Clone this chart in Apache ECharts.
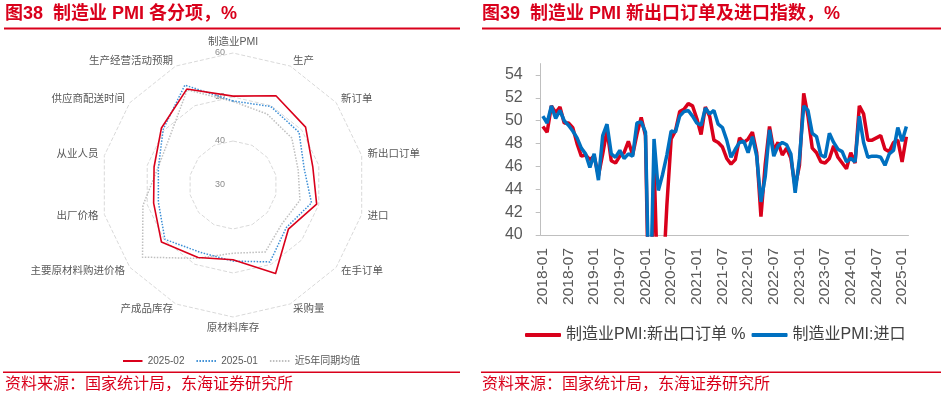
<!DOCTYPE html>
<html><head><meta charset="utf-8">
<script src="https://cdn.jsdelivr.net/npm/echarts@6/dist/echarts.min.js"></script>
<style>html,body{margin:0;padding:0;background:#fff}#c{width:941px;height:397px}</style>
</head><body><div id="c"></div>
<script>
const FONT = '"Liberation Sans","Noto Sans CJK SC",sans-serif';
const RED = '#d9001b';
// ---------- Radar (clockwise order from top) ----------
const radarNames = ['制造业PMI','生产','新订单','新出口订单','进口','在手订单','采购量','原材料库存','产成品库存','主要原材料购进价格','出厂价格','从业人员','供应商配送时间','生产经营活动预期'];
const radarTicks = [30, 40, 50, 60];
const feb2025 = [50.2, 52.5, 51.1, 48.6, 49.5, 46.1, 52.3, 47.0, 48.3, 50.8, 48.5, 48.4, 50.8, 54.2];
const jan2025 = [49.1, 49.8, 49.2, 46.6, 48.3, 45.5, 49.4, 47.3, 47.0, 49.8, 47.4, 47.4, 50.3, 55.2];
const avg5y   = [49.0, 47.9, 47.1, 45.2, 45.6, 44.2, 46.9, 45.5, 48.5, 56.3, 51.0, 47.5, 48.2, 54.0];
const radarLegend = ['2025-02', '2025-01', '近5年同期均值'];
// ---------- Line chart ----------
const months = [];
for (let y = 2018; y <= 2025; y++) for (let m = 1; m <= 12; m++) { if (y === 2025 && m > 2) break; months.push(y + '-' + String(m).padStart(2, '0')); }
const exportOrders = [
 49.5, 49.0, 51.3, 50.7, 51.2, 49.8, 49.8, 49.4, 48.0, 46.9, 47.0, 46.6,
 46.9, 45.2, 47.1, 49.2, 46.5, 46.3, 46.9, 47.2, 48.2, 47.0, 48.8, 50.3,
 48.7, 28.7, 46.4, 33.5, 35.3, 42.6, 48.4, 49.1, 50.8, 51.0, 51.5, 51.3,
 50.2, 48.8, 51.2, 50.4, 48.3, 48.1, 47.7, 46.7, 46.2, 46.6, 48.5, 48.1,
 48.4, 49.0, 47.2, 41.6, 46.2, 49.5, 47.4, 48.1, 47.0, 47.6, 46.7, 44.2,
 46.1, 52.4, 50.4, 47.6, 47.2, 46.4, 46.3, 46.7, 47.8, 46.8, 46.3, 45.8,
 47.2, 46.3, 51.3, 50.6, 48.3, 48.3, 48.5, 48.7, 47.5, 47.3, 48.1, 48.3,
 46.4, 48.6];
const imports = [
 50.4, 49.8, 51.3, 50.2, 50.9, 50.0, 49.6, 49.1, 48.5, 47.6, 47.1, 45.9,
 47.1, 44.8, 48.7, 49.7, 47.1, 46.8, 47.4, 46.7, 47.1, 46.9, 49.8, 49.9,
 49.0, 31.9, 48.4, 43.9, 45.3, 47.0, 49.1, 49.0, 50.4, 50.8, 50.9, 50.4,
 49.8, 49.6, 51.1, 50.6, 50.9, 49.7, 49.4, 48.3, 46.8, 47.5, 48.1, 48.2,
 47.2, 48.6, 46.9, 42.9, 45.1, 49.2, 46.9, 47.8, 48.1, 47.9, 47.1, 43.7,
 46.7, 51.3, 50.9, 48.9, 48.6, 47.0, 46.8, 48.9, 48.1, 47.5, 47.3, 46.4,
 46.7, 46.4, 50.4, 48.1, 46.8, 46.9, 46.9, 46.8, 46.1, 47.1, 47.4, 49.4,
 48.2, 49.5];
const lineNames = ['制造业PMI:新出口订单 %', '制造业PMI:进口'];

// ECharts lays radar indicators counter-clockwise: reverse all but the first
const ccw = a => [a[0]].concat(a.slice(1).reverse());
const rMin = radarTicks[0], rMax = radarTicks[radarTicks.length - 1];

const dotPath = 'path://' + [0,3,6,9,12,15,18].map(x => 'M' + x + ',0h1.5v2h-1.5z').join(' ');
const solidPath = 'path://M0,0H19.5V2H0Z';

const chart = echarts.init(document.getElementById('c'), null, {renderer: 'canvas'});
chart.setOption({
  animation: false,
  textStyle: {fontFamily: FONT},
  title: [
    {text: '图38  制造业 PMI 各分项，%', left: 5, top: 5, padding: 0,
     textStyle: {fontSize: 18, fontWeight: 'bold', color: RED, fontFamily: FONT}},
    {text: '图39  制造业 PMI 新出口订单及进口指数，%', left: 482, top: 5, padding: 0,
     textStyle: {fontSize: 18, fontWeight: 'bold', color: RED, fontFamily: FONT}},
    {text: '资料来源：国家统计局，东海证券研究所', left: 5, top: 377, padding: 0,
     textStyle: {fontSize: 16, fontWeight: 'normal', color: RED, fontFamily: FONT}},
    {text: '资料来源：国家统计局，东海证券研究所', left: 482, top: 377, padding: 0,
     textStyle: {fontSize: 16, fontWeight: 'normal', color: RED, fontFamily: FONT}}
  ],
  graphic: [
    {type: 'rect', shape: {x: 4, y: 27.5, width: 456, height: 2}, style: {fill: RED}, silent: true},
    {type: 'rect', shape: {x: 482, y: 27.5, width: 459, height: 2}, style: {fill: RED}, silent: true},
    {type: 'rect', shape: {x: 3, y: 371.5, width: 457, height: 1.5}, style: {fill: RED}, silent: true},
    {type: 'rect', shape: {x: 481, y: 371.5, width: 460, height: 1.5}, style: {fill: RED}, silent: true}
  ],
  legend: [
    {data: [
       {name: radarLegend[0], icon: solidPath},
       {name: radarLegend[1], icon: dotPath},
       {name: radarLegend[2], icon: dotPath}],
     left: 118, top: 351, itemWidth: 20, itemHeight: 2, itemGap: 12,
     textStyle: {fontSize: 10, color: '#595959', fontFamily: FONT}},
    {data: lineNames, left: 520, top: 322, itemWidth: 36, itemHeight: 4, itemGap: 6, icon: 'roundRect',
     textStyle: {fontSize: 16, color: '#404040', fontFamily: FONT}}
  ],
  radar: {
    center: [233, 185], radius: 132, startAngle: 90, splitNumber: radarTicks.length - 1,
    shape: 'polygon', nameGap: 6,
    indicator: ccw(radarNames).map(n => ({name: n, min: rMin, max: rMax})),
    axisName: {color: '#595959', fontSize: 10.5, fontFamily: FONT},
    splitLine: {lineStyle: {color: '#d9d9d9', type: 'dashed', width: 1}},
    splitArea: {show: false},
    axisLine: {show: false},
    axisTick: {show: false},
    axisLabel: {show: false}
  },
  polar: {center: [233, 185], radius: 132},
  angleAxis: {show: false, startAngle: 90, min: 0, max: 360},
  radiusAxis: {min: rMin, max: rMax, interval: radarTicks[1] - radarTicks[0],
    axisLine: {show: false}, axisTick: {show: false}, splitLine: {show: false},
    axisLabel: {fontSize: 9, color: '#8c8c8c', fontFamily: FONT}},
  grid: {left: 540.7, right: 32.5, top: 63.6, bottom: 162},
  xAxis: {type: 'category', data: months, boundaryGap: true,
    axisLine: {lineStyle: {color: '#bfbfbf', width: 1}},
    axisTick: {interval: 5, length: 5, lineStyle: {color: '#bfbfbf'}},
    axisLabel: {interval: 5, rotate: 90, fontSize: 15.5, color: '#595959', margin: 13, fontFamily: FONT}},
  yAxis: {type: 'value', min: 40, max: 55, interval: 2,
    axisLine: {show: true, lineStyle: {color: '#bfbfbf'}},
    axisTick: {show: true, length: 5, lineStyle: {color: '#bfbfbf'}},
    splitLine: {show: false},
    axisLabel: {fontSize: 16, color: '#595959', margin: 18, showMaxLabel: false, fontFamily: FONT}},
  series: [
    {type: 'radar', symbol: 'none', data: [
      {name: radarLegend[2], value: ccw(avg5y), lineStyle: {color: '#bfbfbf', width: 1.5, type: 'dotted'}, itemStyle: {color: '#bfbfbf'}},
      {name: radarLegend[1], value: ccw(jan2025), lineStyle: {color: '#3d8fd6', width: 1.5, type: 'dotted'}, itemStyle: {color: '#3d8fd6'}},
      {name: radarLegend[0], value: ccw(feb2025), lineStyle: {color: RED, width: 1.6, type: 'solid'}, itemStyle: {color: RED}}
    ]},
    {type: 'line', name: lineNames[0], data: exportOrders, showSymbol: false, symbol: 'none',
     lineStyle: {color: RED, width: 3.5}, itemStyle: {color: RED}},
    {type: 'line', name: lineNames[1], data: imports, showSymbol: false, symbol: 'none',
     lineStyle: {color: '#0070c0', width: 3.5}, itemStyle: {color: '#0070c0'}}
  ]
});
</script></body></html>
